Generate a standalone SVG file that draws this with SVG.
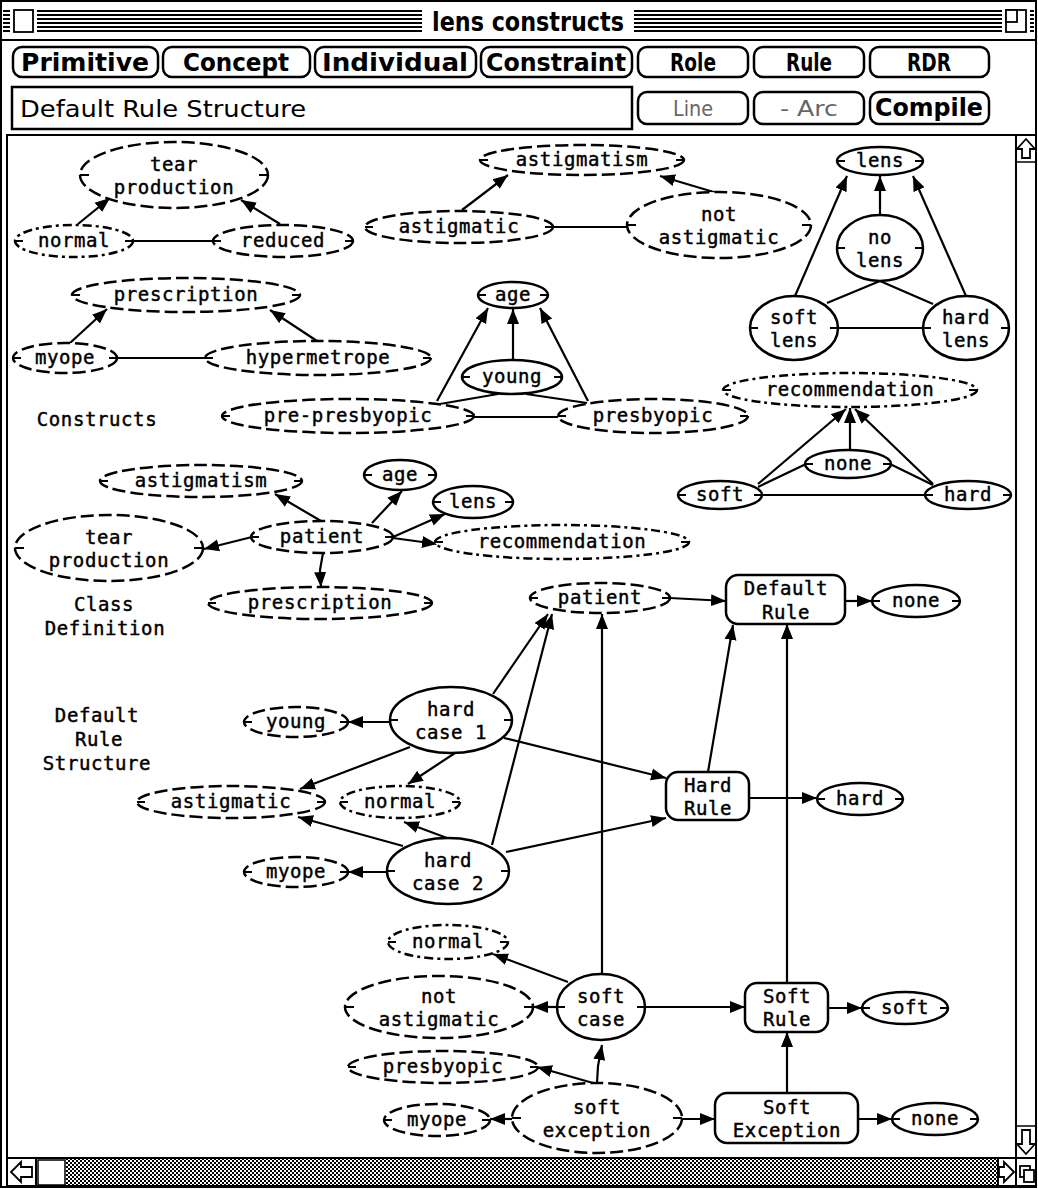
<svg xmlns="http://www.w3.org/2000/svg" width="1038" height="1189" viewBox="0 0 1038 1189">
<style>
.sol{fill:#fff;stroke:#000;stroke-width:2.5}
.dsh{fill:#fff;stroke:#000;stroke-width:2.5;stroke-dasharray:13 5}
.dot{fill:#fff;stroke:#000;stroke-width:2.5;stroke-dasharray:9 4 3 4}
.tk{fill:none;stroke:#000;stroke-width:2}
.box{fill:#fff;stroke:#000;stroke-width:2.5}
.t,.lbl{font-family:"DejaVu Sans Mono","Liberation Mono",monospace;font-size:19px;letter-spacing:0.6px;text-anchor:middle;fill:#000;stroke:#000;stroke-width:0.45}
#edges line,#edges path{fill:none;stroke:#000;stroke-width:2.2}
.a{marker-end:url(#ah)}
.btn{fill:#fff;stroke:#000;stroke-width:2.5}
.bt{font-family:"DejaVu Sans Condensed","DejaVu Sans",sans-serif;font-weight:bold;font-size:24px;text-anchor:middle;fill:#000}
.bg{font-family:"DejaVu Sans Condensed","DejaVu Sans",sans-serif;font-size:22px;text-anchor:middle;fill:#666}
.frame{fill:none;stroke:#000;stroke-width:2}
.out{fill:#fff;stroke:#000;stroke-width:1.8}
</style>
<defs>
<marker id="ah" markerWidth="16" markerHeight="14" refX="15" refY="7" orient="auto" markerUnits="userSpaceOnUse">
<path d="M0,1 L15,7 L0,13 z" fill="#000"/>
</marker>
<pattern id="grey" width="4" height="4" patternUnits="userSpaceOnUse">
<rect width="4" height="4" fill="#fff"/>
<rect x="0" y="0" width="2" height="2" fill="#000"/>
<rect x="2" y="2" width="2" height="2" fill="#000"/>
</pattern>
</defs>

<rect width="1038" height="1189" fill="#fff"/>

<!-- window chrome -->
<g id="window">
<rect x="1" y="1" width="1035" height="1186" class="frame"/>
<!-- title bar stripes -->
<g fill="#000">
<rect x="3" y="10" width="1031" height="2"/>
<rect x="3" y="14" width="1031" height="2"/>
<rect x="3" y="18" width="1031" height="2"/>
<rect x="3" y="22" width="1031" height="2"/>
<rect x="3" y="26" width="1031" height="2"/>
<rect x="3" y="30" width="1031" height="2"/>
</g>
<rect x="10" y="7" width="27" height="28" fill="#fff"/>
<rect x="14" y="10" width="19" height="22" class="out"/>
<rect x="422" y="6" width="212" height="30" fill="#fff"/>
<text x="528" y="31" font-family="'DejaVu Sans Condensed','DejaVu Sans',sans-serif" font-weight="bold" font-size="26" text-anchor="middle" textLength="192" lengthAdjust="spacingAndGlyphs">lens constructs</text>
<rect x="1002" y="7" width="28" height="28" fill="#fff"/>
<rect x="1006" y="10" width="20" height="22" class="out"/>
<rect x="1006" y="10" width="11" height="12" class="out"/>
<line x1="1" y1="40" x2="1036" y2="40" stroke="#000" stroke-width="2"/>

<!-- tool buttons -->
<g id="buttons">
<rect class="btn" x="13" y="47" width="145" height="30" rx="9"/>
<text class="bt" x="85" y="71" textLength="128" lengthAdjust="spacingAndGlyphs">Primitive</text>
<rect class="btn" x="163" y="47" width="147" height="30" rx="9"/>
<text class="bt" x="236" y="71" textLength="106" lengthAdjust="spacingAndGlyphs">Concept</text>
<rect class="btn" x="315" y="47" width="161" height="30" rx="9"/>
<text class="bt" x="395" y="71" textLength="146" lengthAdjust="spacingAndGlyphs">Individual</text>
<rect class="btn" x="481" y="47" width="151" height="30" rx="9"/>
<text class="bt" x="556" y="71" textLength="140" lengthAdjust="spacingAndGlyphs">Constraint</text>
<rect class="btn" x="638" y="47" width="110" height="30" rx="9"/>
<text class="bt" x="693" y="71" textLength="46" lengthAdjust="spacingAndGlyphs">Role</text>
<rect class="btn" x="754" y="47" width="110" height="30" rx="9"/>
<text class="bt" x="809" y="71" textLength="46" lengthAdjust="spacingAndGlyphs">Rule</text>
<rect class="btn" x="870" y="47" width="119" height="30" rx="9"/>
<text class="bt" x="929" y="71" textLength="44" lengthAdjust="spacingAndGlyphs">RDR</text>

<rect x="12" y="87" width="620" height="42" fill="#fff" stroke="#000" stroke-width="2.5"/>
<text x="20" y="117" font-family="'DejaVu Sans Condensed','DejaVu Sans',sans-serif" font-size="23" textLength="286" lengthAdjust="spacingAndGlyphs">Default Rule Structure</text>

<rect class="btn" x="638" y="92" width="110" height="32" rx="9"/>
<text class="bg" x="693" y="116" textLength="40" lengthAdjust="spacingAndGlyphs">Line</text>
<rect class="btn" x="754" y="92" width="110" height="32" rx="9"/>
<text class="bg" x="809" y="116" textLength="58" lengthAdjust="spacingAndGlyphs">- Arc</text>
<rect class="btn" x="870" y="92" width="119" height="32" rx="9"/>
<text class="bt" x="929" y="116" textLength="108" lengthAdjust="spacingAndGlyphs">Compile</text>
</g>

<!-- drawing area border and scroll bars -->
<rect x="7" y="135" width="1029" height="1051" class="frame"/>
<line x1="1016" y1="135" x2="1016" y2="1186" stroke="#000" stroke-width="2"/>
<line x1="7" y1="1158" x2="1036" y2="1158" stroke="#000" stroke-width="2"/>
<line x1="1016" y1="162" x2="1036" y2="162" stroke="#000" stroke-width="1.5"/>
<line x1="1016" y1="1126" x2="1036" y2="1126" stroke="#000" stroke-width="1.5"/>
<polygon class="out" points="1026,139 1035,149 1030,149 1030,158 1022,158 1022,149 1017,149"/>
<polygon class="out" points="1026,1154 1035,1144 1030,1144 1030,1130 1022,1130 1022,1144 1017,1144"/>
<rect x="66" y="1159" width="932" height="26" fill="url(#grey)"/>
<line x1="36" y1="1158" x2="36" y2="1186" stroke="#000" stroke-width="2"/>
<rect x="38" y="1160" width="27" height="25" fill="#fff" stroke="#000" stroke-width="1.5"/>
<line x1="998" y1="1158" x2="998" y2="1186" stroke="#000" stroke-width="2"/>
<polygon class="out" points="11,1172 21,1162 21,1167 32,1167 32,1177 21,1177 21,1182"/>
<polygon class="out" points="1014,1172 1004,1162 1004,1167 999,1167 999,1177 1004,1177 1004,1182"/>
<rect x="1020" y="1166" width="10" height="11" class="out"/>
<rect x="1024" y="1170" width="10" height="12" class="out"/>
</g>

<!-- section captions -->
<g id="captions">
<text class="lbl" x="97" y="426">Constructs</text>
<text class="lbl" x="104" y="611">Class</text>
<text class="lbl" x="105" y="635">Definition</text>
<text class="lbl" x="97" y="722">Default</text>
<text class="lbl" x="99" y="746">Rule</text>
<text class="lbl" x="97" y="770">Structure</text>
</g>

<!-- connectors -->
<g id="edges">
<!-- constructs -->
<line class="a" x1="78" y1="224" x2="110" y2="198"/>
<line class="a" x1="280" y1="224" x2="241" y2="200"/>
<line x1="133" y1="241" x2="213" y2="241"/>
<line class="a" x1="462" y1="210" x2="508" y2="175"/>
<line class="a" x1="717" y1="193" x2="660" y2="176"/>
<line x1="553" y1="227" x2="627" y2="227"/>
<line class="a" x1="880" y1="215" x2="880" y2="176"/>
<line class="a" x1="795" y1="296" x2="847" y2="176"/>
<line class="a" x1="966" y1="296" x2="913" y2="176"/>
<line x1="838" y1="328" x2="923" y2="328"/>
<line x1="880" y1="281" x2="827" y2="303"/>
<line x1="880" y1="281" x2="933" y2="304"/>
<line class="a" x1="70" y1="343" x2="107" y2="309"/>
<line class="a" x1="317" y1="341" x2="270" y2="310"/>
<line x1="117" y1="358" x2="205" y2="358"/>
<line class="a" x1="513" y1="360" x2="513" y2="309"/>
<line class="a" x1="437" y1="401" x2="488" y2="308"/>
<line class="a" x1="588" y1="401" x2="540" y2="308"/>
<line x1="474" y1="417" x2="558" y2="417"/>
<line x1="498" y1="394" x2="440" y2="404"/>
<line x1="526" y1="394" x2="587" y2="403"/>
<line class="a" x1="850" y1="450" x2="850" y2="408"/>
<line class="a" x1="758" y1="484" x2="846" y2="409"/>
<line class="a" x1="933" y1="484" x2="855" y2="409"/>
<line x1="758" y1="487" x2="806" y2="464"/>
<line x1="890" y1="464" x2="933" y2="485"/>
<line x1="762" y1="495" x2="925" y2="495"/>
<!-- class definition -->
<line class="a" x1="321" y1="521" x2="275" y2="494"/>
<line class="a" x1="372" y1="523" x2="402" y2="491"/>
<line class="a" x1="393" y1="537" x2="445" y2="514"/>
<line class="a" x1="393" y1="538" x2="437" y2="544"/>
<line class="a" x1="252" y1="537" x2="204" y2="549"/>
<path class="a" d="M323,553 L320,570 L321,587"/>
<!-- default rule structure -->
<line class="a" x1="670" y1="598" x2="726" y2="601"/>
<line class="a" x1="845" y1="601" x2="872" y2="601"/>
<line class="a" x1="390" y1="722" x2="348" y2="722"/>
<line class="a" x1="410" y1="747" x2="300" y2="789"/>
<line class="a" x1="455" y1="753" x2="408" y2="784"/>
<line class="a" x1="493" y1="694" x2="548" y2="614"/>
<line class="a" x1="504" y1="738" x2="666" y2="778"/>
<line class="a" x1="387" y1="872" x2="348" y2="872"/>
<line class="a" x1="403" y1="846" x2="298" y2="817"/>
<line class="a" x1="447" y1="838" x2="404" y2="822"/>
<line class="a" x1="492" y1="845" x2="552" y2="614"/>
<line class="a" x1="506" y1="852" x2="666" y2="818"/>
<line class="a" x1="749" y1="798" x2="817" y2="798"/>
<line class="a" x1="708" y1="772" x2="733" y2="625"/>
<line class="a" x1="602" y1="974" x2="602" y2="614"/>
<line class="a" x1="787" y1="983" x2="787" y2="624"/>
<line class="a" x1="568" y1="982" x2="493" y2="954"/>
<line class="a" x1="557" y1="1007" x2="533" y2="1007"/>
<line class="a" x1="645" y1="1007" x2="745" y2="1007"/>
<line class="a" x1="828" y1="1008" x2="862" y2="1008"/>
<path class="a" d="M597,1083 L598,1066 L602,1045"/>
<line class="a" x1="593" y1="1083" x2="537" y2="1067"/>
<line class="a" x1="512" y1="1119" x2="490" y2="1119"/>
<line class="a" x1="682" y1="1119" x2="715" y2="1119"/>
<line class="a" x1="787" y1="1093" x2="787" y2="1032"/>
<line class="a" x1="858" y1="1119" x2="892" y2="1119"/>
</g>

<!-- constructs -->
<g id="c-tear"><ellipse class="dsh" cx="174" cy="175" rx="94" ry="33"/><path class="tk" d="M80,175h9M268,175h-9"/><text class="t" x="174" y="171">tear</text><text class="t" x="174" y="194">production</text></g>
<g id="c-normal"><ellipse class="dot" cx="74" cy="241" rx="59" ry="16"/><path class="tk" d="M15,241h8M133,241h-8"/><text class="t" x="74" y="247">normal</text></g>
<g id="c-reduced"><ellipse class="dsh" cx="283" cy="241" rx="70" ry="16"/><path class="tk" d="M213,241h8M353,241h-8"/><text class="t" x="283" y="247">reduced</text></g>
<g id="c-astigmatism"><ellipse class="dsh" cx="582" cy="160" rx="102" ry="15"/><path class="tk" d="M480,160h8M684,160h-8"/><text class="t" x="582" y="166">astigmatism</text></g>
<g id="c-astigmatic"><ellipse class="dsh" cx="459" cy="227" rx="94" ry="16"/><path class="tk" d="M365,227h8M553,227h-8"/><text class="t" x="459" y="233">astigmatic</text></g>
<g id="c-not-astigmatic"><ellipse class="dsh" cx="719" cy="225" rx="92" ry="33"/><path class="tk" d="M627,225h9M811,225h-9"/><text class="t" x="719" y="221">not</text><text class="t" x="719" y="244">astigmatic</text></g>
<g id="c-lens"><ellipse class="sol" cx="880" cy="161" rx="43" ry="14"/><path class="tk" d="M837,161h8M923,161h-8"/><text class="t" x="880" y="167">lens</text></g>
<g id="c-no-lens"><ellipse class="sol" cx="880" cy="248" rx="43" ry="33"/><path class="tk" d="M837,248h8M923,248h-8"/><text class="t" x="880" y="244">no</text><text class="t" x="880" y="267">lens</text></g>
<g id="c-soft-lens"><ellipse class="sol" cx="794" cy="328" rx="44" ry="32"/><path class="tk" d="M750,328h8M838,328h-8"/><text class="t" x="794" y="324">soft</text><text class="t" x="794" y="347">lens</text></g>
<g id="c-hard-lens"><ellipse class="sol" cx="966" cy="328" rx="43" ry="32"/><path class="tk" d="M923,328h8M1009,328h-8"/><text class="t" x="966" y="324">hard</text><text class="t" x="966" y="347">lens</text></g>
<g id="c-prescription"><ellipse class="dsh" cx="186" cy="295" rx="114" ry="17"/><path class="tk" d="M72,295h8M300,295h-8"/><text class="t" x="186" y="301">prescription</text></g>
<g id="c-myope"><ellipse class="dsh" cx="65" cy="358" rx="52" ry="15"/><path class="tk" d="M13,358h8M117,358h-8"/><text class="t" x="65" y="364">myope</text></g>
<g id="c-hypermetrope"><ellipse class="dsh" cx="318" cy="358" rx="113" ry="17"/><path class="tk" d="M205,358h8M431,358h-8"/><text class="t" x="318" y="364">hypermetrope</text></g>
<g id="c-age"><ellipse class="sol" cx="513" cy="295" rx="35" ry="13"/><path class="tk" d="M478,295h8M548,295h-8"/><text class="t" x="513" y="301">age</text></g>
<g id="c-young"><ellipse class="sol" cx="512" cy="377" rx="50" ry="17"/><path class="tk" d="M462,377h8M562,377h-8"/><text class="t" x="512" y="383">young</text></g>
<g id="c-pre-presbyopic"><ellipse class="dsh" cx="348" cy="416" rx="126" ry="17"/><path class="tk" d="M222,416h8M474,416h-8"/><text class="t" x="348" y="422">pre-presbyopic</text></g>
<g id="c-presbyopic"><ellipse class="dsh" cx="653" cy="416" rx="95" ry="17"/><path class="tk" d="M558,416h8M748,416h-8"/><text class="t" x="653" y="422">presbyopic</text></g>
<g id="c-recommendation"><ellipse class="dot" cx="850" cy="390" rx="127" ry="17"/><path class="tk" d="M723,390h8M977,390h-8"/><text class="t" x="850" y="396">recommendation</text></g>
<g id="c-none"><ellipse class="sol" cx="848" cy="464" rx="43" ry="14"/><path class="tk" d="M805,464h8M891,464h-8"/><text class="t" x="848" y="470">none</text></g>
<g id="c-soft"><ellipse class="sol" cx="720" cy="495" rx="42" ry="14"/><path class="tk" d="M678,495h8M762,495h-8"/><text class="t" x="720" y="501">soft</text></g>
<g id="c-hard"><ellipse class="sol" cx="968" cy="495" rx="43" ry="14"/><path class="tk" d="M925,495h8M1011,495h-8"/><text class="t" x="968" y="501">hard</text></g>

<!-- class definition -->
<g id="d-astigmatism"><ellipse class="dsh" cx="201" cy="481" rx="101" ry="16"/><path class="tk" d="M100,481h8M302,481h-8"/><text class="t" x="201" y="487">astigmatism</text></g>
<g id="d-age"><ellipse class="sol" cx="400" cy="475" rx="36" ry="15"/><path class="tk" d="M364,475h8M436,475h-8"/><text class="t" x="400" y="481">age</text></g>
<g id="d-lens"><ellipse class="sol" cx="473" cy="502" rx="40" ry="16"/><path class="tk" d="M433,502h8M513,502h-8"/><text class="t" x="473" y="508">lens</text></g>
<g id="d-tear"><ellipse class="dsh" cx="109" cy="548" rx="94" ry="33"/><path class="tk" d="M15,548h9M203,548h-9"/><text class="t" x="109" y="544">tear</text><text class="t" x="109" y="567">production</text></g>
<g id="d-patient"><ellipse class="dsh" cx="322" cy="537" rx="71" ry="16"/><path class="tk" d="M251,537h8M393,537h-8"/><text class="t" x="322" y="543">patient</text></g>
<g id="d-recommendation"><ellipse class="dot" cx="562" cy="542" rx="127" ry="17"/><path class="tk" d="M435,542h8M689,542h-8"/><text class="t" x="562" y="548">recommendation</text></g>
<g id="d-prescription"><ellipse class="dsh" cx="320" cy="603" rx="112" ry="16"/><path class="tk" d="M208,603h8M432,603h-8"/><text class="t" x="320" y="609">prescription</text></g>

<!-- default rule structure -->
<g id="r-patient"><ellipse class="dsh" cx="600" cy="598" rx="70" ry="15"/><path class="tk" d="M530,598h8M670,598h-8"/><text class="t" x="600" y="604">patient</text></g>
<g id="r-default-rule"><rect class="box" x="726" y="575" width="119" height="49" rx="12"/><text class="t" x="786" y="595">Default</text><text class="t" x="786" y="619">Rule</text></g>
<g id="r-none"><ellipse class="sol" cx="916" cy="601" rx="44" ry="16"/><path class="tk" d="M872,601h8M960,601h-8"/><text class="t" x="916" y="607">none</text></g>
<g id="r-hard-case-1"><ellipse class="sol" cx="451" cy="720" rx="61" ry="33"/><path class="tk" d="M390,720h8M512,720h-8"/><text class="t" x="451" y="716">hard</text><text class="t" x="451" y="739">case 1</text></g>
<g id="r-young"><ellipse class="dsh" cx="296" cy="722" rx="52" ry="15"/><path class="tk" d="M244,722h8M348,722h-8"/><text class="t" x="296" y="728">young</text></g>
<g id="r-astigmatic"><ellipse class="dsh" cx="231" cy="802" rx="94" ry="16"/><path class="tk" d="M137,802h8M325,802h-8"/><text class="t" x="231" y="808">astigmatic</text></g>
<g id="r-normal"><ellipse class="dot" cx="400" cy="802" rx="60" ry="16"/><path class="tk" d="M340,802h8M460,802h-8"/><text class="t" x="400" y="808">normal</text></g>
<g id="r-hard-rule"><rect class="box" x="666" y="772" width="83" height="48" rx="12"/><text class="t" x="708" y="792">Hard</text><text class="t" x="708" y="815">Rule</text></g>
<g id="r-hard"><ellipse class="sol" cx="860" cy="799" rx="43" ry="16"/><path class="tk" d="M817,799h8M903,799h-8"/><text class="t" x="860" y="805">hard</text></g>
<g id="r-hard-case-2"><ellipse class="sol" cx="448" cy="871" rx="61" ry="33"/><path class="tk" d="M387,871h8M509,871h-8"/><text class="t" x="448" y="867">hard</text><text class="t" x="448" y="890">case 2</text></g>
<g id="r-myope"><ellipse class="dsh" cx="296" cy="872" rx="52" ry="15"/><path class="tk" d="M244,872h8M348,872h-8"/><text class="t" x="296" y="878">myope</text></g>
<g id="s-normal"><ellipse class="dot" cx="448" cy="942" rx="60" ry="17"/><path class="tk" d="M388,942h8M508,942h-8"/><text class="t" x="448" y="948">normal</text></g>
<g id="s-not-astigmatic"><ellipse class="dsh" cx="439" cy="1007" rx="94" ry="31"/><path class="tk" d="M345,1007h9M533,1007h-9"/><text class="t" x="439" y="1003">not</text><text class="t" x="439" y="1026">astigmatic</text></g>
<g id="s-soft-case"><ellipse class="sol" cx="601" cy="1007" rx="44" ry="33"/><path class="tk" d="M557,1007h8M645,1007h-8"/><text class="t" x="601" y="1003">soft</text><text class="t" x="601" y="1026">case</text></g>
<g id="s-soft-rule"><rect class="box" x="745" y="983" width="83" height="49" rx="12"/><text class="t" x="787" y="1003">Soft</text><text class="t" x="787" y="1026">Rule</text></g>
<g id="s-soft"><ellipse class="sol" cx="905" cy="1008" rx="43" ry="16"/><path class="tk" d="M862,1008h8M948,1008h-8"/><text class="t" x="905" y="1014">soft</text></g>
<g id="s-presbyopic"><ellipse class="dsh" cx="443" cy="1067" rx="95" ry="16"/><path class="tk" d="M348,1067h8M538,1067h-8"/><text class="t" x="443" y="1073">presbyopic</text></g>
<g id="s-soft-exception"><ellipse class="dsh" cx="597" cy="1118" rx="85" ry="35"/><path class="tk" d="M512,1118h9M682,1118h-9"/><text class="t" x="597" y="1114">soft</text><text class="t" x="597" y="1137">exception</text></g>
<g id="s-myope"><ellipse class="dsh" cx="437" cy="1120" rx="53" ry="16"/><path class="tk" d="M384,1120h8M490,1120h-8"/><text class="t" x="437" y="1126">myope</text></g>
<g id="s-soft-exception-rule"><rect class="box" x="715" y="1093" width="143" height="50" rx="12"/><text class="t" x="787" y="1114">Soft</text><text class="t" x="787" y="1137">Exception</text></g>
<g id="s-none"><ellipse class="sol" cx="935" cy="1119" rx="43" ry="16"/><path class="tk" d="M892,1119h8M978,1119h-8"/><text class="t" x="935" y="1125">none</text></g>
</svg>
